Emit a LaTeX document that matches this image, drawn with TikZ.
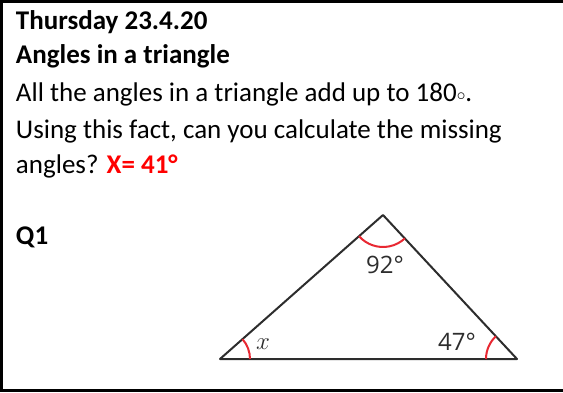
\documentclass[tikz,border=0pt]{standalone}
\usepackage{fontspec}
\setmainfont{Carlito}
\newfontfamily\labelfont{Open Sans}
\definecolor{inkgray}{RGB}{45,45,45}
\definecolor{arcred}{RGB}{232,40,50}
\newcommand{\smallring}{{\fontsize{17}{17}\selectfont\raisebox{1pt}{$\circ$}}}

\begin{document}
\begin{tikzpicture}[x=1pt,y=1pt,
  every node/.style={inner sep=0pt,outer sep=0pt},
  txt/.style={anchor=base west,font=\fontsize{27}{32}\selectfont},
  lbl/.style={text=inkgray,font=\labelfont\fontsize{24}{28}\selectfont},
  side/.style={inkgray,line width=2pt,line join=round},
  anglearc/.style={arcred,line width=2pt}]
\useasboundingbox (0,0) rectangle (563,392);
\draw[line width=3pt] (570,1.5) -- (1.3,1.5) -- (1.3,390.5) -- (570,390.5);

\node[txt] (l1) at (16,362) {\textbf{Thursday 23.4.20}};
\node[txt] (l2) at (16,328.5) {\textbf{Angles in a triangle}};
\node[txt] (l3) at (16,290.5) {All the angles in a triangle add up to 180\smallring.};
\node[txt] (l4) at (16,254) {Using this fact, can you calculate the missing};
\node[txt] (l5) at (16,218.5) {angles? \textcolor{red}{\textbf{X= 41°}}};
\node[txt] (q1) at (16,148) {\textbf{Q1}};

% triangle
\coordinate (A) at (220,33);
\coordinate (B) at (517,33);
\coordinate (C) at (383,177);
\draw[side] (A) -- (B) -- (C) -- cycle;

% angle marks
\draw[anglearc] ([shift={(0:30)}]A) arc (0:41.5:30);
\draw[anglearc] ([shift={(133:31)}]B) arc (133:180:31);
\draw[anglearc] ([shift={(221.5:32)}]C) arc (221.5:313:32);

\node[lbl] (top) at (385,127) {92°};
\node[lbl] (right) at (457,50) {47°};
\node[lbl,font=\fontsize{27}{30}\selectfont] (left) at (263,48) {$x$};

\end{tikzpicture}
\end{document}
